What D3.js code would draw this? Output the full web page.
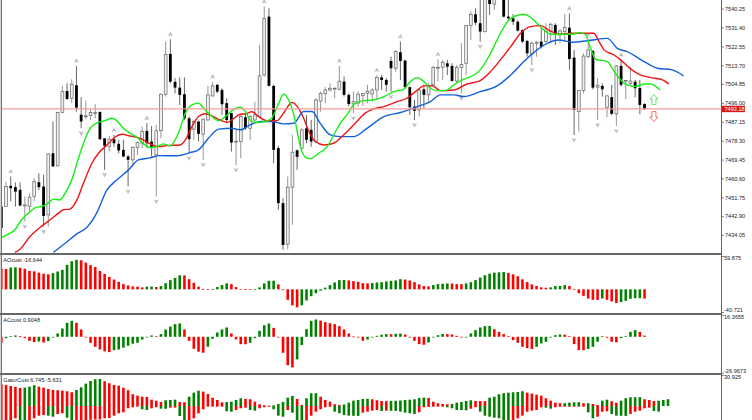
<!DOCTYPE html>
<html>
<head>
<meta charset="utf-8">
<script src="https://cdn.jsdelivr.net/npm/d3@7"></script>
<style>
  html, body { margin: 0; padding: 0; background: #fff; overflow: hidden; }
  text { font-family: "Liberation Sans", Arial, sans-serif; font-size: 5.6px; fill: #222; }
  .price-axis .domain, .sub-axis .domain { stroke: #666; }
  .price-axis line, .sub-axis line { stroke: #555; stroke-width: .7; }
</style>
</head>
<body>
<div id="chart"></div>
<script>
// candles
const highs = [7447.4,7459.1,7461.5,7458.7,7458.7,7452.1,7453.7,7460.7,7463.0,7462.3,
  7472.4,7487.3,7491.9,7504.0,7505.2,7507.1,7513.4,7498.7,7497.1,7493.0,
  7495.4,7491.9,7479.4,7480.5,7481.0,7478.7,7478.7,7471.6,7475.5,7477.9,
  7484.9,7486.5,7485.2,7485.7,7500.5,7524.8,7525.9,7507.6,7508.0,7508.0,
  7489.6,7488.0,7487.7,7488.8,7504.0,7506.0,7504.9,7502.9,7498.2,7491.2,
  7484.1,7490.4,7491.2,7490.4,7496.6,7523.2,7541.2,7540.4,7504.5,7476.0,
  7451.3,7461.5,7481.0,7474.0,7484.1,7490.4,7488.0,7498.2,7501.3,7503.4,
  7505.2,7503.4,7513.4,7508.4,7500.5,7501.3,7501.3,7500.5,7504.5,7502.9,
  7509.1,7509.1,7507.6,7517.7,7520.9,7524.8,7516.2,7503.7,7497.4,7502.9,
  7504.5,7505.2,7513.4,7516.5,7516.2,7516.2,7514.6,7513.8,7524.0,7532.6,
  7538.8,7540.4,7544.3,7552,7550,7548,7552,7552,7544.3,7537.7,
  7534.9,7530.5,7525.5,7524.8,7525.1,7531.0,7533.4,7533.7,7533.4,7530.5,
  7537.7,7538.0,7520.9,7502.1,7519.3,7525.5,7520.9,7507.6,7505.2,7499.8,
  7504.5,7513.8,7516.2,7506.8,7513.0,7506.8,7506.8,7495.9];
const opens = [7447.4,7447.4,7457.1,7456.5,7455.2,7447.7,7447.4,7452.1,7458.8,7456.8,
  7443.5,7472.4,7466.5,7491.5,7501.6,7498.2,7504.3,7490.5,7489.6,7490.2,
  7491.2,7491.8,7479.4,7475.5,7479.0,7476.8,7474.0,7470.9,7469.3,7475.1,
  7477.1,7482.9,7477.9,7471.6,7483.0,7500.1,7519.0,7505.9,7503.2,7500.1,
  7488.8,7483.7,7487.3,7481.3,7488.0,7499.3,7504.5,7502.1,7495.9,7491.2,
  7477.7,7477.9,7489.3,7484.1,7488.0,7489.6,7509.1,7536.5,7504.0,7474.8,
  7449.0,7429.8,7456.5,7473.8,7474.8,7484.1,7483.4,7477.9,7496.9,7500.5,
  7502.1,7502.7,7502.4,7506.0,7499.8,7495.5,7495.9,7499.5,7500.5,7500.2,
  7502.1,7508.0,7506.8,7515.7,7512.3,7519.8,7515.9,7503.4,7494.3,7492.7,
  7502.4,7499.8,7504.5,7512.6,7512.6,7514.6,7513.4,7506.3,7512.6,7514.6,
  7532.3,7537.6,7533.4,7529.5,7546,7542.4,7546,7549,7536.5,7535.7,
  7534.1,7530.2,7525.1,7519.3,7524.0,7524.8,7524.8,7529.5,7532.6,7527.9,
  7529.5,7531.3,7517.3,7491.9,7501.8,7517.7,7520.4,7503.4,7504.0,7494.0,
  7498.7,7490.9,7513.4,7506.5,7505.2,7506.0,7503.0,7495.5];
const closes = [7437.3,7456.8,7456.0,7454.4,7447.9,7448.2,7451.8,7459.1,7456.5,7443.0,
  7472.1,7466.2,7491.5,7501.3,7497.9,7504.8,7493.8,7487.3,7489.9,7491.5,
  7491.5,7479.0,7475.9,7479.0,7477.1,7473.7,7470.9,7469.3,7475.2,7477.4,
  7482.6,7477.1,7475.1,7482.9,7500.1,7518.8,7506.0,7503.2,7499.8,7488.8,
  7479.0,7487.3,7481.5,7488.4,7499.8,7504.0,7501.3,7495.4,7488.0,7477.4,
  7478.0,7489.6,7484.1,7489.6,7490.4,7508.7,7535.7,7504.0,7474.0,7449.0,
  7429.4,7456.5,7472.9,7470.7,7483.4,7478.7,7477.9,7497.4,7500.5,7502.1,
  7502.9,7502.9,7506.2,7499.8,7495.5,7496.6,7500.1,7500.5,7501.5,7502.1,
  7508.0,7506.8,7504.5,7512.3,7520.1,7515.7,7503.4,7494.0,7492.3,7502.1,
  7499.8,7504.0,7512.7,7512.7,7515.1,7513.0,7506.3,7512.6,7514.1,7532.3,
  7537.6,7533.7,7529.5,7548,7542.4,7546,7549,7536.5,7535.7,7534.1,
  7529.9,7524.8,7519.3,7524.0,7524.5,7522.4,7529.5,7532.9,7527.9,7529.8,
  7531.5,7516.6,7492.7,7501.8,7518.0,7520.9,7503.2,7504.3,7502.4,7499.3,
  7490.9,7513.4,7504.5,7506.6,7506.3,7502.9,7495.1,7493.18];
const lows = [7437.3,7447.4,7449.8,7447.4,7447.4,7440.4,7445.1,7449.8,7455.2,7438.0,
  7438.0,7466.2,7466.2,7491.2,7497.4,7495.9,7491.9,7484.1,7488.4,7488.0,
  7488.8,7478.7,7464.6,7473.2,7475.5,7472.4,7470.5,7456.8,7466.2,7471.6,
  7474.8,7474.8,7470.9,7452.1,7479.4,7499.0,7505.2,7500.5,7495.1,7488.0,
  7472.4,7478.7,7477.9,7469.3,7487.7,7499.0,7500.5,7490.4,7486.5,7473.2,
  7466.9,7470.1,7483.4,7478.7,7487.3,7488.8,7508.4,7503.7,7467.7,7445.9,
  7427.1,7427.4,7438.8,7464.6,7474.0,7477.1,7475.5,7477.1,7491.9,7495.9,
  7501.3,7498.2,7502.1,7499.0,7494.3,7491.2,7494.3,7494.6,7495.9,7496.6,
  7497.4,7502.1,7501.3,7501.3,7510.7,7506.8,7502.9,7490.4,7488.0,7489.6,
  7493.5,7495.9,7503.7,7506.0,7506.8,7509.1,7506.0,7505.2,7500.5,7509.1,
  7525.5,7532.6,7524.8,7529.0,7537.3,7539.6,7544.5,7536.2,7534.9,7532.6,
  7529.5,7524.0,7517.7,7513.8,7517.7,7521.6,7524.0,7524.0,7523.2,7524.0,
  7524.8,7511.5,7481.0,7482.6,7500.5,7516.9,7502.4,7488.0,7499.0,7489.3,
  7490.4,7485.2,7503.7,7497.9,7504.5,7498.7,7490.7,7492.7];

// fractal markers, by bar number
const fractalsUp = [2,16,24,31,36,45,56,72,80,85,93,121,125,132];
const fractalsDown = [5,9,17,22,27,33,40,43,50,60,75,83,88,98,102,113,122,127,131];

// moving averages: bar number + price
const greenBars = [0.1,1.9,2.9,4.3,5.8,7.5,8.6,10,11.1,12.5,13.6,15,16.1,17.5,18.9,20.3,22.1,23.5,24.6,26,27.4,28.9,30.3,31.7,33.1,34.5,36,37.7,39.2,40.6,42,43.1,44.5,46.3,47.7,49.5,50.9,52,53,54.4,56.2,57.6,59.1,60.1,61.2,62.3,63.7,64.8,65.8,67.6,69.4,71.2,72.2,73.6,75.4,77.2,79.3,81.5,83.6,85.7,87.1,88.6,90,91.4,92.8,94.6,96.4,98.2,99.6,100.7,102,103.5,104.9,106.3,108.1,109.5,111.3,112.7,114.1,115.6,117,118.8,121.3,123.4,124.5,125.5,126.6,129.1,130.1,131.6,133.3,135.1,136.9,138.3,140.3];
const greenVals = [7433.0,7434.9,7436.5,7441.2,7444.3,7447.1,7447.4,7449.0,7450.9,7450.5,7453.7,7459.9,7467.7,7477.1,7484.1,7486.5,7487.7,7488.8,7487.7,7484.1,7481.8,7479.9,7476.8,7475.1,7475.5,7476.8,7475.9,7481.8,7491.2,7495.1,7495.9,7493.5,7490.4,7487.7,7489.6,7493.0,7494.0,7491.9,7488.0,7486.8,7487.3,7488.8,7495.9,7500.1,7497.4,7490.4,7475.5,7470.5,7469.9,7472.4,7475.5,7482.6,7486.5,7490.4,7495.9,7497.1,7497.4,7499.0,7501.3,7502.4,7506.0,7507.9,7506.0,7502.9,7501.8,7501.8,7504.5,7506.8,7508.0,7509.1,7511.5,7516.5,7522.4,7528.7,7534.9,7536.8,7537.6,7536.2,7533.4,7530.2,7528.2,7528.2,7528.2,7529.0,7527.9,7521.6,7516.5,7515.4,7512.3,7507.6,7504.5,7503.7,7504.9,7504.9,7502.1];
const redBars = [2.9,4,6.1,8.3,10.4,12.2,13.2,14.6,16.1,17.5,19.3,21,22.5,24.2,25.7,27.4,29.6,31.7,33.5,35.3,38.1,39.2,40.6,42,43.4,45.2,46.6,48.1,49.5,50.9,52,53.4,54.8,56.6,58.7,60.1,61.9,63.3,64.4,65.5,66.9,68.7,70.8,72.9,75.4,77.5,79.3,81.5,84.3,86.4,88.2,90,91.8,93.5,96.4,99.2,102,104.2,106.3,108.5,110.6,112.7,114.9,116.6,118.8,121.3,124.1,126.2,127.3,128.4,130.5,131.9,134,136.2,138.3,140.5,142.2];
const redVals = [7425.9,7427.4,7433.3,7437.7,7441.2,7444.3,7445.9,7446.2,7450.5,7458.4,7467.7,7473.2,7476.3,7479.9,7481.3,7480.5,7479.4,7476.8,7475.5,7476.0,7476.3,7478.7,7484.9,7489.6,7490.9,7489.6,7488.0,7486.9,7488.8,7490.7,7490.9,7491.9,7489.6,7487.7,7487.7,7491.2,7496.2,7493.5,7488.8,7482.6,7477.9,7476.3,7477.1,7481.0,7486.5,7491.2,7493.2,7494.3,7496.6,7498.2,7501.3,7504.0,7504.1,7501.8,7502.1,7504.9,7506.5,7510.7,7516.2,7522.4,7528.7,7531.8,7532.3,7530.2,7528.2,7528.7,7528.7,7528.7,7524.8,7520.9,7518.5,7516.2,7512.0,7509.1,7507.9,7507.1,7504.9];
const blueBars = [11.1,13.6,16.1,18.2,20.3,22.5,24.2,27.1,29.2,31.4,33.8,37.4,40.2,42,44.1,46.3,49.1,50.9,53,55.2,57.6,60.1,62.3,64.4,66.2,67.9,70.1,72.2,75.1,77.9,81.5,85,88.6,91.4,93.5,96.4,98.5,102,105.6,108.5,111.3,114.1,116.3,118.8,121.6,124.8,129.1,131.2,133.3,136.9,139.7,142.9,145.3];
const blueVals = [7425.9,7430.2,7434.6,7437.6,7444.3,7455.2,7459.1,7464.6,7469.3,7470.1,7471.3,7471.2,7472.7,7474.0,7479.4,7483.7,7484.1,7483.4,7485.7,7487.3,7487.3,7486.2,7486.5,7492.0,7492.0,7486.5,7481.0,7480.2,7480.2,7484.1,7489.6,7491.5,7494.3,7496.6,7499.8,7499.8,7499.0,7501.3,7504.0,7509.1,7515.4,7520.9,7524.0,7525.5,7524.5,7525.2,7526.3,7521.6,7520.1,7515.4,7512.3,7511.5,7508.7];

// sub windows
const aoVals = [37,36.5,39,39.5,38.8,37,33,32.3,30,28,27,29,32,35,44,50.5,53,52.3,48,43.5,40,33,27.6,22.3,17.6,13.5,9.4,7,5.3,4.7,3.5,4.7,4.9,4.1,5.9,11,16.5,20.6,25.3,25,18.2,11.8,4.7,0.4,-1,-0.6,4.1,7.6,10.6,9.4,4.1,0.6,0.2,-1.2,-0.6,3.5,10.6,15.3,15.5,8.8,-1,-18.8,-28.8,-32.3,-28.8,-20,-12.3,-7,-2.4,3,7.6,12.3,16.5,16.7,16,14.7,13.5,11.2,10.6,11.2,12.3,12.9,14.1,15.3,15.9,18.2,17.6,15.9,12.9,8.8,5.9,5.3,7.6,9.4,10,10.6,10.4,9.4,9.2,10.6,12.9,16.5,21.2,25.3,28.2,30,30.6,31,29.4,27,23.5,18,13,8.8,5.9,3.5,2.9,3.5,5.9,6.2,7.6,5.9,-0.3,-7,-11.8,-16.5,-18.8,-19,-16.5,-18.8,-21.8,-24.7,-23,-20.6,-17,-16,-15.9,-16.644];
const acVals = [-4.5,-1,0.5,1,0.6,-1,-3,-4,-3.5,-4.3,-3.2,-0.5,2.5,6.2,10.5,12,10.5,5.5,-0.5,-4.5,-7.5,-9.5,-11,-11.5,-10,-9.5,-8.2,-6.7,-5.2,-4.5,-2,-0.5,1,0.5,2,5.5,7.7,9.5,10,5.5,-3,-9,-11.2,-12,-7.5,-1.5,3.2,5.5,7,2.5,-2,-5.5,-5.6,-4.5,-1,4.5,8.7,10,6.7,-0.5,-12,-21.3,-23,-17,-6.2,5.7,12,13,12.2,11,10.2,9.5,8,5.5,2.5,0.2,-0.5,-3,-2,-0.5,0.7,1.5,2,1.9,2.2,2.4,1.7,0,-3,-5.5,-6,-4.2,-0.5,1.2,2.2,2,1.7,0.7,-0.5,0,2.5,5,7,8,8.1,5.7,3.7,2,0.5,-2.5,-4.5,-7.5,-8.5,-9.2,-7.5,-5,-3.7,-0.5,1.2,1.7,1.6,0.5,-5.5,-10,-10.1,-9.2,-7.5,-3.7,0.5,-0.7,-3.7,-4.2,-1,0.5,3.7,5,3.7,0.9048];
const gatorUp = [21.7,21,20,19,18,18.3,19.3,20.7,19.3,18.3,17,16,15.7,15.3,14.7,13.7,16,18.7,22.3,25,26.7,27,24.7,22.7,21,20.3,18.3,15.7,11.7,10.3,9.3,9,6.3,5.3,4,5.7,6,6.3,4,3.7,9.3,13.3,15.3,14.3,12,8.3,6,3.7,3.9,4.3,6,7.7,7,6.7,4.3,1.7,0.7,0.3,0.5,2,4,8.3,10,7,1,7.7,12.7,12.8,9.3,6,4.3,1.7,1,1.5,3.3,5.3,6,7,7.2,6.7,5.7,5,4.8,5,5.2,5.5,6,6.3,6.7,8,8.3,8,4.3,2.7,2,1.7,2,3.3,4,5,5.7,5,4.9,4.8,8.3,9.3,11.7,12.7,13.3,13.7,14,14.7,13.3,12.3,11.3,10.3,7.7,5.3,3.3,2.7,2.8,3.3,3.7,3.8,2.7,2.8,2,1,5.3,6.3,4.7,3.3,5.3,7.7,8.7,8.75,8.8,6.7,6,5,5.3,6,6.745];
const gatorDown = [-15,-14.5,-14,-12.3,-14,-15,-14.5,-12.3,-9.7,-9,-9.7,-10.7,-8,-7.3,-11.7,-15,-14.5,-14.2,-14,-13.8,-13.6,-13.4,-12.3,-12,-9.7,-7.3,-6.3,-2.3,-1.3,-0.7,-3.3,-4,-2.3,-1.3,-2.7,-2.8,-1.7,-1.6,-10,-14.5,-14,-12.3,-7.3,-3.3,-0.7,-0.6,-0.5,-0.4,-5.3,-5.7,-4,-2.3,-1.7,-4,-4.7,-2.3,-1.3,-0.7,-3.3,-9.7,-10.7,-4,-6.7,-14.5,-15,-14.5,-9.7,-5.7,-3.3,-1.3,-0.7,-5.7,-7.3,-9,-9.7,-9.8,-9.9,-6.7,-5.7,-4.7,-4,-5,-4.7,-4.8,-4.9,-5.7,-6.7,-7.3,-8,-6.3,-1.3,-1,-0.7,-0.6,-0.5,-1.3,-2.3,-4,-4.1,-4.3,-2.7,-1.3,-5.7,-9.7,-10.7,-11.7,-12.3,-14,-14.2,-14,-12.3,-9.7,-5.7,-4.7,-4,-1.3,-1.7,-2.7,-1.3,-0.7,-0.6,-0.5,-0.4,-0.3,-0.2,-6.3,-12.3,-10.7,-5.7,-5.3,-8,-9.7,-9.8,-9.9,-8,-5.7,-4.7,-2.3,-1.7,-5,-5.631];

const priceTicks = [7540.25,7531.40,7522.55,7513.70,7504.85,7496.00,7487.15,7478.30,7469.45,7460.60,7451.75,7442.90,7434.05];
const lastPrice = 7493.18;
const arrowBar = 139, arrowUpPrice = 7497.6, arrowDownPrice = 7489.6;
const aoLabel = "AOcust -16.644", acLabel = "ACcust 0.9048", gatorLabel = "GatorCust 6.745 -5.631";
const aoRange = [-40.721, 59.875], acRange = [-26.9673, 16.3655], gatorTop = 30.925, gatorBottom = -14.4;

const W = 752, H = 420, AXIS_X = 721;
const GREEN = "#008200", RED = "#ff0000";

const svg = d3.select("#chart").append("svg").attr("width", W).attr("height", H).style("display", "block");
const x = d3.scaleLinear().domain([0, 145]).range([1.33, 682.1]);

function clip(id, y0, y1) {
  svg.append("clipPath").attr("id", id).append("rect")
    .attr("x", 2).attr("y", y0).attr("width", AXIS_X - 2).attr("height", y1 - y0);
  return svg.append("g").attr("clip-path", `url(#${id})`);
}

// main window
const yPrice = d3.scaleLinear().domain([7425.6, 7544.3]).range([253, 0]);
const main = clip("c-main", 0, 253);
const candles = d3.range(opens.length).map(i => ({ i, o: opens[i], h: highs[i], l: lows[i], c: closes[i] }));

main.append("g").selectAll("line").data(candles).join("line")
  .attr("x1", d => x(d.i)).attr("x2", d => x(d.i))
  .attr("y1", d => yPrice(d.h)).attr("y2", d => yPrice(d.l))
  .attr("stroke", d => d.c >= d.o ? "#8a8a8a" : "#555").attr("stroke-width", 0.9);

main.append("g").selectAll("rect").data(candles).join("rect")
  .attr("x", d => x(d.i) - 1.4).attr("width", 2.8)
  .attr("y", d => yPrice(Math.max(d.o, d.c)))
  .attr("height", d => Math.max(0.8, Math.abs(yPrice(d.o) - yPrice(d.c))))
  .attr("fill", d => d.c >= d.o ? "#efefef" : "#000")
  .attr("stroke", d => d.c >= d.o ? "#666" : "none").attr("stroke-width", 0.7);

main.append("g").selectAll("path").data(fractalsUp).join("path")
  .attr("transform", i => `translate(${x(i)},${yPrice(highs[i]) - 5})`)
  .attr("d", "M0,-2.6L2.6,2L0,1L-2.6,2Z").attr("fill", "#bdbdbd");
main.append("g").selectAll("path").data(fractalsDown).join("path")
  .attr("transform", i => `translate(${x(i)},${yPrice(lows[i]) + 5})`)
  .attr("d", "M0,2.6L2.6,-2L0,-1L-2.6,-2Z").attr("fill", "#bdbdbd");

const line = d3.line().x(d => x(d[0])).y(d => yPrice(d[1])).curve(d3.curveMonotoneX);
[[blueBars, blueVals, "#1360dc"], [redBars, redVals, "#f01414"], [greenBars, greenVals, "#14f014"]].forEach(([b, v, col]) => {
  main.append("path").attr("d", line(d3.zip(b, v)))
    .attr("fill", "none").attr("stroke", col).attr("stroke-width", 1.4);
});

main.append("line").attr("x1", 0).attr("x2", AXIS_X)
  .attr("y1", yPrice(lastPrice)).attr("y2", yPrice(lastPrice))
  .attr("stroke", "#f79a9a").attr("stroke-width", 1.2);

// hollow arrows after the last candle
main.append("path").attr("transform", `translate(${x(arrowBar)},${yPrice(arrowUpPrice)})`)
  .attr("d", "M0,-5L4,-0.5L2,-0.5L2,5L-2,5L-2,-0.5L-4,-0.5Z")
  .attr("fill", "#fff").attr("stroke", "#55e055").attr("stroke-width", 0.9);
main.append("path").attr("transform", `translate(${x(arrowBar)},${yPrice(arrowDownPrice)})`)
  .attr("d", "M0,5L4,0.5L2,0.5L2,-5L-2,-5L-2,0.5L-4,0.5Z")
  .attr("fill", "#fff").attr("stroke", "#f05a5a").attr("stroke-width", 0.9);

const priceAxis = svg.append("g").attr("class", "price-axis").attr("transform", `translate(${AXIS_X},0)`)
  .call(d3.axisRight(yPrice).tickValues(priceTicks).tickFormat(d3.format(".2f")).tickSize(3).tickPadding(1));
priceAxis.select(".domain").attr("d", `M0.5,0V420`);

svg.append("rect").attr("x", 722).attr("y", yPrice(lastPrice) - 3.2).attr("width", 23).attr("height", 6.4).attr("fill", "#d01818");
svg.append("text").attr("x", 724.5).attr("y", yPrice(lastPrice) + 2).style("fill", "#fff").text(d3.format(".2f")(lastPrice));

// sub windows
function rising(vals, i) { return i > 0 && Math.abs(vals[i]) > Math.abs(vals[i - 1]); }
function up(vals, i) { return i > 0 && vals[i] > vals[i - 1]; }

function bars(g, vals, y, isGreen) {
  g.append("g").selectAll("rect").data(vals).join("rect")
    .attr("x", (d, i) => x(i) - 1.3).attr("width", 2.6)
    .attr("y", d => Math.min(y(0), y(d)))
    .attr("height", d => Math.max(0.7, Math.abs(y(d) - y(0))))
    .attr("fill", (d, i) => isGreen(vals, i) ? GREEN : RED);
}

function subAxis(y, values, top) {
  const g = svg.append("g").attr("class", "sub-axis").attr("transform", `translate(${AXIS_X},0)`)
    .call(d3.axisRight(y).tickValues(values).tickFormat(d => d).tickSize(3).tickPadding(0));
  g.select(".domain").remove();
  g.selectAll("text").attr("dy", d => d === top ? "0.7em" : "-0.1em");
}

const yAo = d3.scaleLinear().domain(aoRange).range([312, 256]);
const ao = clip("c-ao", 255, 313);
bars(ao, aoVals, yAo, up);
subAxis(yAo, aoRange, aoRange[1]);

const yAc = d3.scaleLinear().domain(acRange).range([372.7, 315]);
const ac = clip("c-ac", 315, 373);
bars(ac, acVals, yAc, up);
subAxis(yAc, acRange, acRange[1]);

const yGator = d3.scaleLinear().domain([gatorBottom, gatorTop]).range([420.4, 375]);
const gator = clip("c-gator", 375, 420);
bars(gator, gatorUp, yGator, rising);
bars(gator, gatorDown, yGator, rising);
subAxis(yGator, [gatorTop], gatorTop);

svg.append("text").attr("x", 3.3).attr("y", 262).text(aoLabel);
svg.append("text").attr("x", 3.3).attr("y", 321.5).text(acLabel);
svg.append("text").attr("x", 3.3).attr("y", 381.5).text(gatorLabel);

// frames
[254, 314, 374].forEach(sep => {
  svg.append("line").attr("x1", 0).attr("x2", AXIS_X + 1).attr("y1", sep).attr("y2", sep)
    .attr("stroke", "#666").attr("stroke-width", 1.8);
});
svg.append("line").attr("x1", 1.3).attr("x2", 1.3).attr("y1", 0).attr("y2", H)
  .attr("stroke", "#666").attr("stroke-width", 1.2);
</script>
</body>
</html>
